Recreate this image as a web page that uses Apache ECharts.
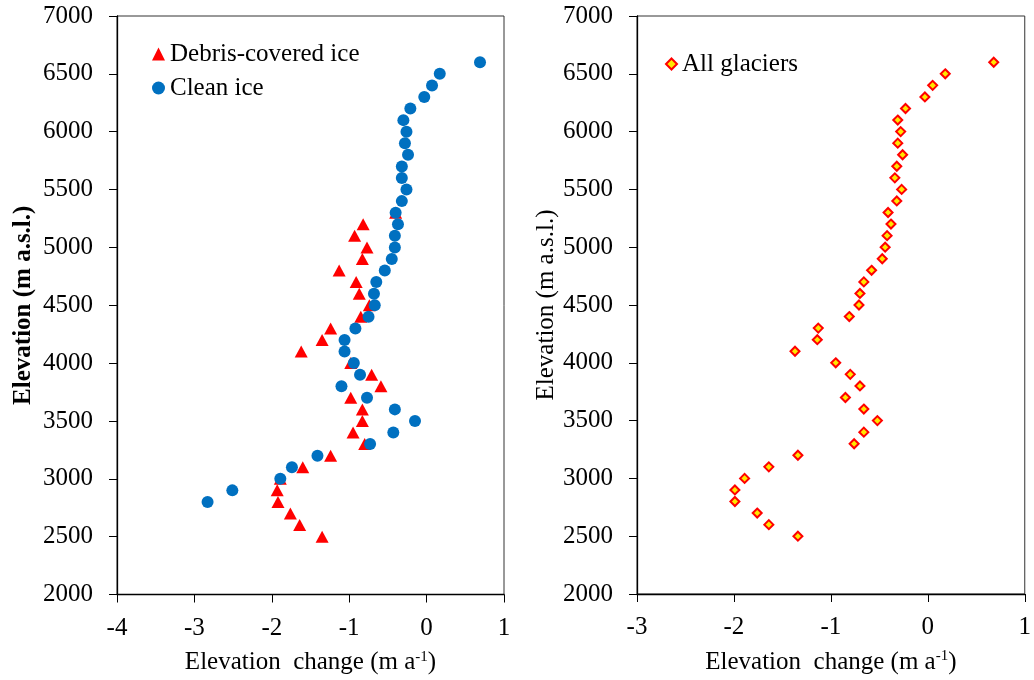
<!DOCTYPE html>
<html>
<head>
<meta charset="utf-8">
<script src="https://cdn.jsdelivr.net/npm/echarts@6/dist/echarts.min.js"></script>
<style>
  html, body { margin: 0; padding: 0; background: #fff; }
  #chart { width: 1034px; height: 680px; }
</style>
</head>
<body>
<div id="chart"></div>
<script>
// elevation bands (m a.s.l.) and elevation change (m a-1)
const debrisElev = [2500, 2600, 2700, 2800, 2900, 3000, 3100, 3200, 3300, 3400,
    3500, 3600, 3700, 3800, 3900, 4000, 4100, 4200, 4300, 4400,
    4500, 4600, 4700, 4800, 4900, 5000, 5100, 5200, 5300];
const debrisChange = [-1.35, -1.64, -1.76, -1.92, -1.93, -1.89, -1.60, -1.24, -0.80, -0.95,
    -0.83, -0.83, -0.98, -0.59, -0.71, -0.98, -1.62, -1.35, -1.24, -0.85,
    -0.74, -0.87, -0.91, -1.13, -0.83, -0.77, -0.93, -0.82, -0.40];

const cleanElev = [2800, 2900, 3000, 3100, 3200, 3300, 3400, 3500, 3600, 3700,
    3800, 3900, 4000, 4100, 4200, 4300, 4400, 4500, 4600, 4700,
    4800, 4900, 5000, 5100, 5200, 5300, 5400, 5500, 5600, 5700,
    5800, 5900, 6000, 6100, 6200, 6300, 6400, 6500, 6600];
const cleanChange = [-2.83, -2.51, -1.89, -1.74, -1.41, -0.73, -0.43, -0.15, -0.41, -0.77,
    -1.10, -0.86, -0.94, -1.06, -1.06, -0.92, -0.75, -0.67, -0.68, -0.65,
    -0.54, -0.45, -0.41, -0.41, -0.37, -0.40, -0.32, -0.26, -0.32, -0.32,
    -0.24, -0.28, -0.26, -0.30, -0.21, -0.03, 0.07, 0.17, 0.69];

const allElev = [2500, 2600, 2700, 2800, 2900, 3000, 3100, 3200, 3300, 3400,
    3500, 3600, 3700, 3800, 3900, 4000, 4100, 4200, 4300, 4400,
    4500, 4600, 4700, 4800, 4900, 5000, 5100, 5200, 5300, 5400,
    5500, 5600, 5700, 5800, 5900, 6000, 6100, 6200, 6300, 6400,
    6500, 6600];
const allChange = [-1.34, -1.64, -1.76, -1.99, -1.99, -1.89, -1.64, -1.34, -0.76, -0.66,
    -0.52, -0.66, -0.85, -0.70, -0.80, -0.95, -1.37, -1.14, -1.13, -0.81,
    -0.71, -0.70, -0.66, -0.58, -0.47, -0.44, -0.42, -0.38, -0.41, -0.32,
    -0.27, -0.34, -0.32, -0.26, -0.31, -0.28, -0.31, -0.23, -0.03, 0.05,
    0.18, 0.68];

const FONT = '"Liberation Serif", "Times New Roman", serif';
const FS = 25;

function pairs(xs, ys) {
    return xs.map((x, i) => [x, ys[i]]);
}

function xAxisFor(idx, min) {
    return {
        gridIndex: idx,
        type: 'value',
        min: min,
        max: 1,
        interval: 1,
        name: 'Elevation  change (m a{sup|-1})',
        nameLocation: 'middle',
        nameGap: 55,
        nameTextStyle: {
            fontFamily: FONT, fontSize: FS, color: '#000',
            rich: { sup: { fontFamily: FONT, fontSize: 15, color: '#000', verticalAlign: 'top', padding: [0, 0, 11, 0] } }
        },
        axisLine: { show: true, onZero: false, lineStyle: { color: '#000', width: 1.3 } },
        axisTick: { show: true, inside: false, length: 8, lineStyle: { color: '#000' } },
        axisLabel: { fontFamily: FONT, fontSize: FS, color: '#000', margin: 21 },
        splitLine: { show: false }
    };
}

function yAxisFor(idx, bold, gap) {
    return {
        gridIndex: idx,
        type: 'value',
        min: 2000,
        max: 7000,
        interval: 500,
        name: 'Elevation (m a.s.l.)',
        nameLocation: 'middle',
        nameGap: gap,
        nameTextStyle: { fontFamily: FONT, fontSize: FS, color: '#000', fontWeight: bold ? 'bold' : 'normal' },
        axisLine: { show: true, onZero: false, lineStyle: { color: '#000', width: 1.3 } },
        axisTick: { show: true, inside: false, length: 8, lineStyle: { color: '#000' } },
        axisLabel: {
            fontFamily: FONT, fontSize: FS, color: '#000', margin: 24,
            formatter: v => String(v)
        },
        splitLine: { show: false }
    };
}

const chart = echarts.init(document.getElementById('chart'));

const options = {
    backgroundColor: '#fff',
    animation: false,
    grid: [
        { left: 117, top: 16, width: 387, height: 579, show: true, borderColor: '#333', borderWidth: 1 },
        { left: 637, top: 16, width: 390, height: 578, show: true, borderColor: '#333', borderWidth: 1 }
    ],
    xAxis: [xAxisFor(0, -4), xAxisFor(1, -3)],
    yAxis: [yAxisFor(0, true, 81), yAxisFor(1, false, 78)],
    legend: [
        {
            data: ['Debris-covered ice', 'Clean ice'],
            orient: 'vertical',
            left: 147,
            top: 36,
            itemWidth: 13,
            itemHeight: 13,
            itemGap: 8,
            textStyle: { fontFamily: FONT, fontSize: FS, color: '#000', lineHeight: 26 }
        },
        {
            data: ['All glaciers'],
            orient: 'vertical',
            left: 660,
            top: 46,
            itemWidth: 11,
            itemHeight: 11,
            textStyle: { fontFamily: FONT, fontSize: FS, color: '#000', lineHeight: 26 }
        }
    ],
    series: [
        {
            name: 'Debris-covered ice',
            type: 'scatter',
            xAxisIndex: 0,
            yAxisIndex: 0,
            symbol: 'triangle',
            symbolSize: [13, 12],
            itemStyle: { color: '#FF0000', opacity: 1 },
            data: pairs(debrisChange, debrisElev)
        },
        {
            name: 'Clean ice',
            type: 'scatter',
            xAxisIndex: 0,
            yAxisIndex: 0,
            symbol: 'circle',
            symbolSize: 12,
            itemStyle: { color: '#0070C0', opacity: 1 },
            data: pairs(cleanChange, cleanElev)
        },
        {
            name: 'All glaciers',
            type: 'scatter',
            xAxisIndex: 1,
            yAxisIndex: 1,
            symbol: 'diamond',
            symbolSize: 9,
            itemStyle: { color: '#FFE800', borderColor: '#FF0000', borderWidth: 2, opacity: 1 },
            data: pairs(allChange, allElev)
        }
    ]
};

chart.setOption(options);
</script>
</body>
</html>
